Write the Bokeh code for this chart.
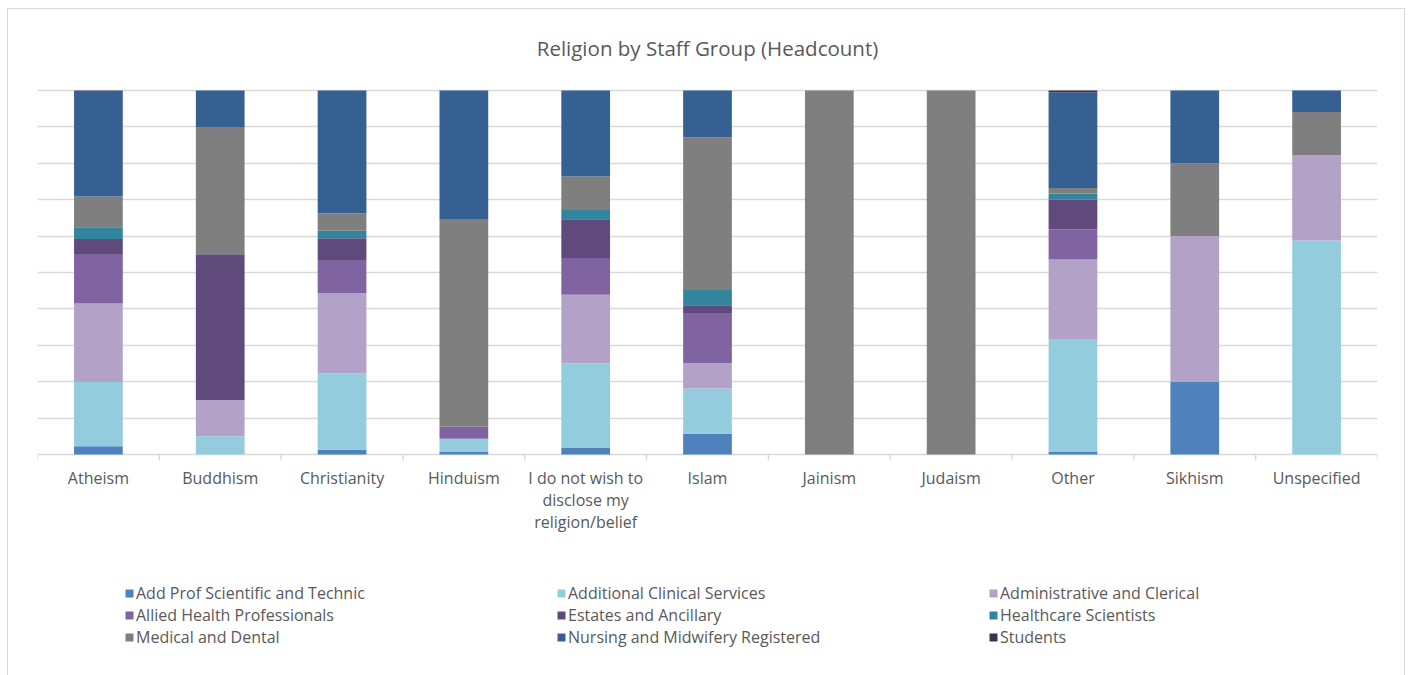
from bokeh.plotting import figure
from bokeh.models import ColumnDataSource, FixedTicker, Legend, LegendItem, Label
from bokeh.core.properties import value
from bokeh.embed import file_html
from bokeh.resources import INLINE

# ---------------- data ----------------
categories = ["Atheism", "Buddhism", "Christianity", "Hinduism",
              "I do not wish to\ndisclose my\nreligion/belief", "Islam",
              "Jainism", "Judaism", "Other", "Sikhism", "Unspecified"]

group_names = ["Add Prof Scientific and Technic", "Additional Clinical Services",
               "Administrative and Clerical", "Allied Health Professionals",
               "Estates and Ancillary", "Healthcare Scientists",
               "Medical and Dental", "Nursing and Midwifery Registered", "Students"]

# share of headcount (%) per religion, one list per staff group
add_prof = [2.3, 0, 1.3, 0.8, 1.8, 5.7, 0, 0, 0.7, 20, 0]
add_clin = [17.6, 5, 21.0, 3.5, 23.3, 12.4, 0, 0, 30.8, 0, 58.8]
admin    = [21.6, 10, 22.0, 0, 18.8, 7.0, 0, 0, 22.1, 40, 23.5]
allied   = [13.6, 0, 9.1, 3.4, 10.1, 13.8, 0, 0, 8.3, 0, 0]
estates  = [4.1, 40, 6.0, 0, 10.6, 2.1, 0, 0, 8.1, 0, 0]
hsci     = [3.2, 0, 2.1, 0, 2.6, 4.2, 0, 0, 1.7, 0, 0]
medical  = [8.5, 35, 4.8, 57.0, 9.2, 41.9, 100, 100, 1.5, 20, 11.8]
nursing  = [29.0, 10, 33.7, 35.3, 23.6, 12.9, 0, 0, 26.3, 20, 5.9]
students = [0.1, 0, 0, 0, 0, 0, 0, 0, 0.5, 0, 0]

series = [add_prof, add_clin, admin, allied, estates, hsci, medical, nursing, students]
colors = ["#4F81BD", "#93CDDD", "#B3A2C7", "#8064A2", "#604A7B",
          "#31859C", "#7F7F7F", "#376092", "#3F3151"]

grid_ticks = [0, 10, 20, 30, 40, 50, 60, 70, 80, 90, 100]
title_text = "Religion by Staff Group (Headcount)"

# ---------------- layout constants (pixels) ----------------
W, H = 1398, 670          # inner size (page has a 1px border, 7/8 px margin)
LEFT, RIGHT = 29, 29
PLOT_TOP, PLOT_H = 81, 364
PX = PLOT_H / 100.0       # pixels per percent
Y_START = -(H - PLOT_TOP - PLOT_H) / PX
Y_END = 100 + PLOT_TOP / PX

# ---------------- build ----------------
n = len(categories)
keys = ["g%d" % i for i in range(len(series))]
totals = [sum(s[j] for s in series) for j in range(n)]
centers = [j + 0.5 for j in range(n)]
data = {"x": centers}
for k, s in zip(keys, series):
    data[k] = [v / t * 100.0 for v, t in zip(s, totals)]
source = ColumnDataSource(data)

TXT = "#595959"
GRID = "#D9D9D9"

p = figure(width=W, height=H, x_range=(0, n), y_range=(Y_START, Y_END),
           output_backend="svg", toolbar_location=None,
           min_border_left=LEFT, min_border_right=RIGHT,
           min_border_top=0, min_border_bottom=0)
p.styles = {"margin-left": "7px", "margin-top": "8px", "border": "1px solid #D9D9D9"}
p.xaxis.visible = False
p.yaxis.visible = False
p.xgrid.visible = False
p.outline_line_color = None
p.background_fill_color = "white"
p.border_fill_color = "white"

p.ygrid.ticker = FixedTicker(ticks=grid_ticks)
p.ygrid.grid_line_color = GRID
p.ygrid.grid_line_width = 1.4

renderers = p.vbar_stack(keys, x="x", width=0.4, source=source,
                         fill_color=colors, line_color=None)

# category boundary ticks below the baseline
bounds = list(range(n + 1))
p.segment(x0=bounds, y0=[0] * len(bounds), x1=bounds, y1=[-6 / PX] * len(bounds),
          line_color=GRID, line_width=1.4)

# category labels
p.text(x=centers, y=[0] * n, text=categories, y_offset=12,
       text_align="center", text_baseline="top",
       text_font=value("Open Sans"), text_font_size="16px",
       text_line_height=1.0, text_color=TXT)

# title
p.add_layout(Label(x=n / 2, y=100, y_offset=43, text=title_text,
                   text_align="center", text_baseline="middle",
                   text_font="Open Sans", text_font_size="20.5px",
                   text_color=TXT))

leg = Legend(items=[LegendItem(label=nm, renderers=[r]) for nm, r in zip(group_names, renderers)])
leg.location = (87, 31)
leg.orientation = "horizontal"
leg.ncols = 3
leg.glyph_width = 10
leg.glyph_height = 10
leg.label_standoff = 2
leg.label_width = 420
leg.label_height = 22
leg.spacing = 0
leg.padding = 0
leg.margin = 0
leg.border_line_color = None
leg.background_fill_alpha = 0
leg.label_text_font = "Open Sans"
leg.label_text_font_size = "16px"
leg.label_text_color = TXT
p.add_layout(leg, "center")

open("out.html", "w").write(file_html(p, INLINE))
